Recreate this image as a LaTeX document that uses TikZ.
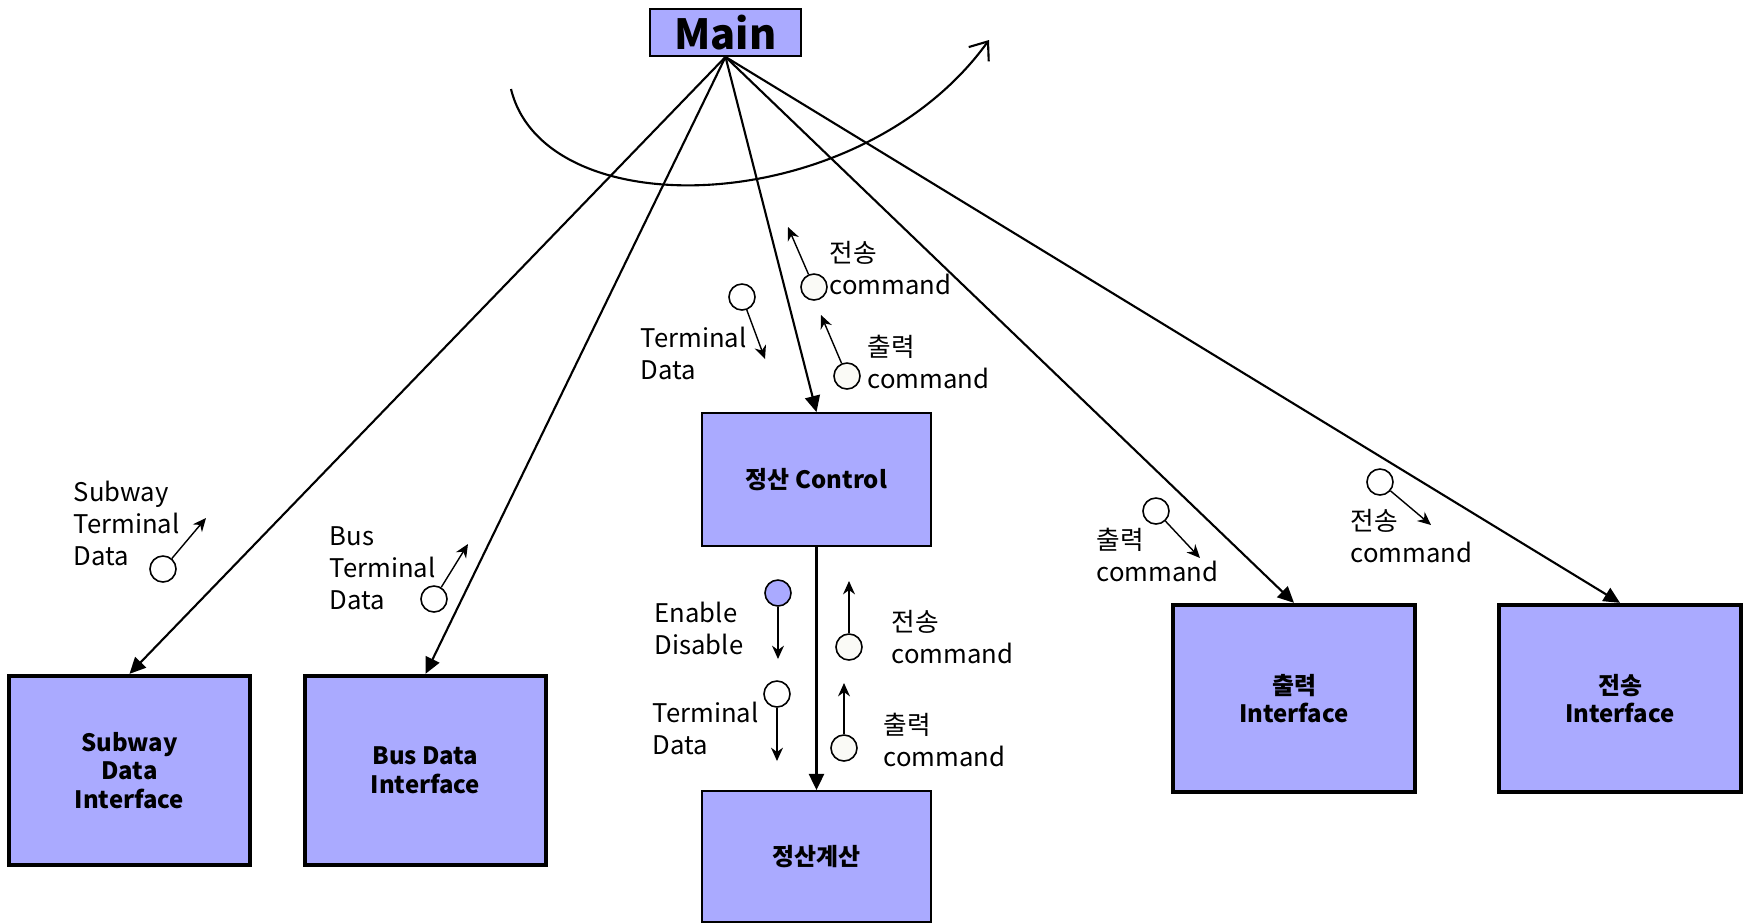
\documentclass[tikz,border=0pt]{standalone}
\usepackage{fontspec}
\setmainfont{Noto Sans CJK KR}
\usetikzlibrary{arrows.meta}
\definecolor{boxblue}{RGB}{170,170,255}
\definecolor{offwhite}{RGB}{250,250,246}

\begin{document}
\begin{tikzpicture}[x=0.01cm,y=-0.01cm,
    >={Triangle[length=4.6pt,width=4.3pt]},
    box/.style={draw,fill=boxblue,line width=0.5pt,align=center,inner sep=0pt,
      font=\fontsize{6.8}{8.2}\selectfont\bfseries},
    thickbox/.style={box,line width=1.2pt},
    ball/.style={circle,draw,fill=white,line width=0.45pt,minimum size=0.26cm,inner sep=0pt},
    lbl/.style={font=\fontsize{7.3}{9.1}\selectfont,align=left,anchor=west,inner sep=0pt},
    flow/.style={->,line width=0.6pt},
    small/.style={-{Stealth[length=3.8pt,width=3.4pt]},line width=0.4pt}]
  \useasboundingbox (0,0) rectangle (1750,923);

  % boxes
  \node(main) [box,minimum width=1.51cm,minimum height=0.47cm,
    font=\fontsize{11.8}{14}\selectfont\bfseries] at (725.5,32.5) {Main};
  \node(subway) [thickbox,minimum width=2.41cm,minimum height=1.89cm] at (129.5,770.5) {Subway\\Data\\Interface};
  \node(bus) [thickbox,minimum width=2.41cm,minimum height=1.89cm] at (425.5,770.5) {Bus Data\\Interface};
  \node(control) [box,minimum width=2.29cm,minimum height=1.33cm] at (816.5,479.5) {정산 Control};
  \node(calc) [box,minimum width=2.29cm,minimum height=1.31cm] at (816.5,856.5) {정산계산};
  \node(printif) [thickbox,minimum width=2.42cm,minimum height=1.87cm] at (1294,698.5) {출력\\Interface};
  \node(sendif) [thickbox,minimum width=2.42cm,minimum height=1.87cm] at (1620,698.5) {전송\\Interface};

  \draw[flow] (main.south) -- (subway.north);
  \draw[flow] (main.south) -- (bus.north);
  \draw[flow] (main.south) -- (control.north);
  \draw[flow] (main.south) -- (printif.north);
  \draw[flow] (main.south) -- (sendif.north);
  \draw[flow] (control.south) -- (calc.north);

  % loop
  \coordinate(loopa) at (511,89);
  \coordinate(loopb) at (989,40);
  \draw[-{Straight Barb[length=4.5pt,width=7pt]},line width=0.6pt]
    (loopa) .. controls (545,229) and (860,219) .. (loopb);

  % couples
  \coordinate(subwaye) at (206,518);
  \coordinate(buse) at (468,544);
  \coordinate(termae) at (765,359);
  \coordinate(sendae) at (788,227);
  \coordinate(printae) at (821,315);
  \coordinate(enablee) at (778,659);
  \coordinate(termbe) at (777,761);
  \coordinate(sendbe) at (849,581);
  \coordinate(printbe) at (844,683);
  \coordinate(printce) at (1200,558);
  \coordinate(sendce) at (1431,525);

  \node(subwayc) [ball] at (163,569) {} edge [small] (subwaye);
  \node(busc) [ball] at (434,599) {} edge [small] (buse);
  \node(termac) [ball] at (742,297) {} edge [small] (termae);
  \node(sendac) [ball,fill=offwhite] at (814,287) {} edge [small] (sendae);
  \node(printac) [ball,fill=offwhite] at (847,376) {} edge [small] (printae);
  \node(enablec) [ball,fill=boxblue] at (778,593) {} edge [small] (enablee);
  \node(termbc) [ball] at (777,694) {} edge [small] (termbe);
  \node(sendbc) [ball,fill=offwhite] at (849,647) {} edge [small] (sendbe);
  \node(printbc) [ball,fill=offwhite] at (844,748) {} edge [small] (printbe);
  \node(printcc) [ball] at (1156,511) {} edge [small] (printce);
  \node(sendcc) [ball] at (1380,482) {} edge [small] (sendce);

  % labels
  \node(subwayl) [lbl] at (73,523) {Subway\\Terminal\\Data};
  \node(busl) [lbl] at (329,568) {Bus\\Terminal\\Data};
  \node(terml) [lbl] at (640,353) {Terminal\\Data};
  \node(sendl) [lbl] at (829,268) {전송\\command};
  \node(printl) [lbl] at (867,362) {출력\\command};
  \node(enablel) [lbl] at (654,628) {Enable\\Disable};
  \node(termbl) [lbl] at (652,728) {Terminal\\Data};
  \node(sendbl) [lbl] at (891,637) {전송\\command};
  \node(printbl) [lbl] at (883,740) {출력\\command};
  \node(printcl) [lbl] at (1096,555) {출력\\command};
  \node(sendcl) [lbl] at (1350,536) {전송\\command};
\end{tikzpicture}
\end{document}
